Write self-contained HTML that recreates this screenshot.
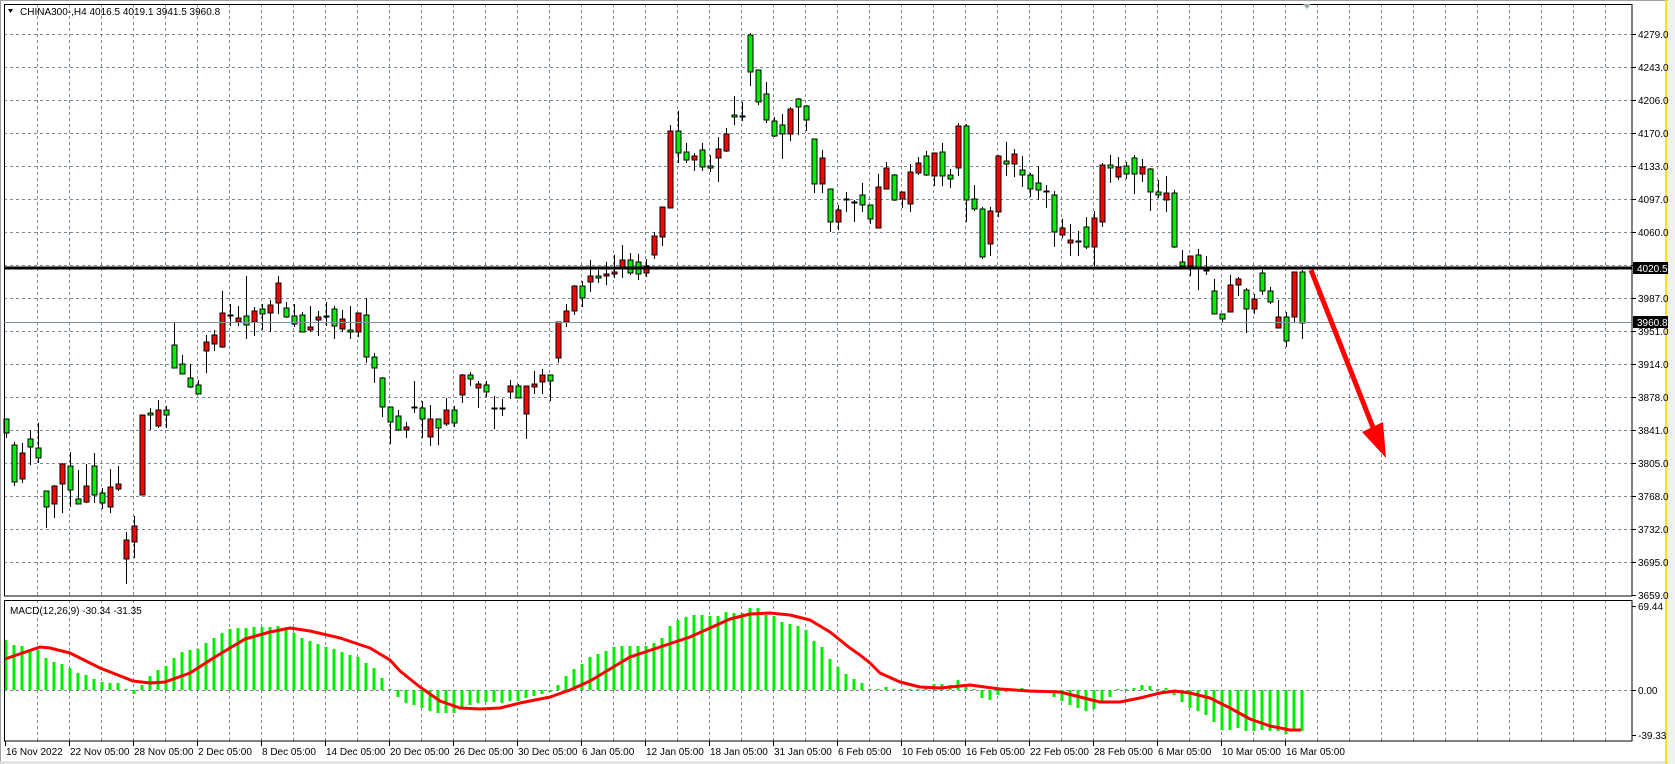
<!DOCTYPE html>
<html><head><meta charset="utf-8">
<style>
html,body{margin:0;padding:0;background:#fff;}
svg{display:block;}
text{font-family:"Liberation Sans",sans-serif;font-size:10px;fill:#000;}
</style></head>
<body>
<svg id="s" width="1675" height="764" xmlns="http://www.w3.org/2000/svg">
<rect x="0" y="0" width="1675" height="764" fill="#fff"/>
<line x1="0" y1="0.5" x2="1675" y2="0.5" stroke="#a0a0a0"/>
<line x1="0.5" y1="0" x2="0.5" y2="764" stroke="#a0a0a0"/>
<line x1="0" y1="762.5" x2="1675" y2="762.5" stroke="#d8d8d8" stroke-width="2"/>
<rect x="1665" y="0" width="2.5" height="764" fill="#f5e030"/>
<rect x="1668" y="0" width="7" height="764" fill="#f0f0f0"/>
<g id="grid"></g>
<g id="macd"></g>
<g id="candles"></g>
<g id="fg"></g>
<text x="20" y="15">CHINA300-,H4  4016.5 4019.1 3941.5 3960.8</text>
<polygon points="8,9 13,9 10.5,13" fill="#000"/>
<polygon points="1303,4 1311,4 1307,9" fill="#9aa"/>
<text x="10" y="614">MACD(12,26,9) -30.34 -31.35</text>
</svg>
<script>
const NS="http://www.w3.org/2000/svg";
function el(p,t,a,txt){const e=document.createElementNS(NS,t);for(const k in a)e.setAttribute(k,a[k]);if(txt!==undefined)e.textContent=txt;document.getElementById(p).appendChild(e);return e;}
const GC="#7a8896";
for(let k=0;k<=16;k++){const y=34+33*k+0.5;el('grid','line',{x1:4,y1:y,x2:1632,y2:y,stroke:GC,'stroke-dasharray':'3,3'});}
for(let x=37;x<1632;x+=32){el('grid','line',{x1:x+0.5,y1:4,x2:x+0.5,y2:596,stroke:GC,'stroke-dasharray':'3,3'});
 el('grid','line',{x1:x+0.5,y1:600,x2:x+0.5,y2:741,stroke:GC,'stroke-dasharray':'3,3'});}
el('grid','line',{x1:4,y1:690.5,x2:1632,y2:690.5,stroke:GC,'stroke-dasharray':'3,3'});
el('fg','rect',{x:4.5,y:4.5,width:1627.5,height:591.5,fill:'none',stroke:'#000'});
el('fg','rect',{x:4.5,y:600.5,width:1627.5,height:140.5,fill:'none',stroke:'#000'});
const pl=["4279.0","4243.0","4206.0","4170.0","4133.0","4097.0","4060.0","4024.0","3987.0","3951.0","3914.0","3878.0","3841.0","3805.0","3768.0","3732.0","3695.0","3659.0"];
pl.forEach((t,k)=>{const y=34+33*k;el('fg','line',{x1:1632,y1:y+0.5,x2:1636,y2:y+0.5,stroke:'#000'});el('fg','text',{x:1638,y:y+4},t);});
[[606,"69.44"],[690,"0.00"],[735,"-39.33"]].forEach(([y,t])=>{el('fg','line',{x1:1632,y1:y+0.5,x2:1636,y2:y+0.5,stroke:'#000'});el('fg','text',{x:1638,y:y+4},t);});
const dl=["16 Nov 2022","22 Nov 05:00","28 Nov 05:00","2 Dec 05:00","8 Dec 05:00","14 Dec 05:00","20 Dec 05:00","26 Dec 05:00","30 Dec 05:00","6 Jan 05:00","12 Jan 05:00","18 Jan 05:00","31 Jan 05:00","6 Feb 05:00","10 Feb 05:00","16 Feb 05:00","22 Feb 05:00","28 Feb 05:00","6 Mar 05:00","10 Mar 05:00","16 Mar 05:00"];
dl.forEach((t,i)=>{const x=5+64*i;el('fg','line',{x1:x+0.5,y1:741,x2:x+0.5,y2:746,stroke:'#000'});el('fg','text',{x:x+1,y:755},t);});
const C=`419,433,419,438,g
445,482,442,486,g
453,479,443,483,r
439,447,430,465,g
448,458,423,463,g
491,507,491,528,g
486,504,485,518,r
464,484,463,513,r
466,490,452,507,g
499,504,470,504,g
486,502,464,503,r
466,495,453,503,g
493,503,488,509,g
487,507,469,513,r
484,489,466,491,r
540,559,532,584,r
526,542,516,558,r
415,495,415,495,r
413,415,408,430,g
410,426,400,428,r
410,415,406,428,g
345,368,323,368,g
364,374,355,374,g
378,387,364,388,g
385,394,380,394,g
342,351,335,373,r
335,344,330,351,r
313,347,291,348,r
315,315,304,326,d
318,322,306,326,r
316,325,276,339,g
311,322,307,336,r
309,314,304,330,g
305,313,300,332,r
283,303,276,314,r
308,317,302,318,g
316,324,304,327,g
315,332,312,332,g
327,330,306,332,r
317,320,311,336,r
316,316,302,326,d
309,326,306,339,g
319,329,310,332,r
330,332,306,339,g
313,332,313,337,r
315,357,298,363,g
357,368,353,383,g
378,407,377,417,g
407,422,407,444,g
416,430,410,431,g
427,430,422,438,r
407,407,381,413,d
408,419,401,438,g
419,437,405,446,r
419,428,419,445,g
410,424,398,426,r
410,423,406,427,g
375,395,374,403,r
375,379,372,386,g
384,388,381,408,r
385,392,381,397,g
408,408,396,429,d
408,408,399,416,d
386,392,380,399,r
386,398,384,398,g
386,414,386,439,r
384,387,371,394,r
375,382,369,394,r
375,381,375,401,g
322,358,322,363,r
311,322,304,327,r
286,311,285,315,r
286,298,281,307,g
276,282,260,292,r
276,278,270,283,g
274,276,262,285,r
272,274,255,278,r
260,268,245,278,r
260,273,253,275,g
262,274,254,280,g
266,273,259,277,r
236,255,232,259,r
207,237,207,246,r
131,208,125,208,r
131,153,111,163,g
152,160,143,163,g
156,160,153,171,r
150,167,143,171,g
166,168,155,172,g
149,158,137,182,r
134,151,128,152,r
115,117,96,125,g
116,116,102,121,d
35,72,33,86,g
70,102,70,105,g
94,120,82,123,g
121,136,117,137,g
125,134,114,159,g
109,134,107,141,r
99,107,98,135,g
106,120,105,131,g
139,184,139,193,g
158,184,150,193,r
189,222,189,232,g
210,222,205,230,r
199,199,192,212,d
202,202,200,222,d
195,205,183,212,g
205,219,205,224,g
187,228,174,228,r
168,189,162,189,r
175,200,174,201,g
192,199,192,208,r
172,204,164,212,r
163,173,157,175,r
156,175,151,176,g
153,176,153,186,r
152,176,143,186,g
175,179,169,188,g
126,168,123,176,r
126,200,124,222,g
199,209,185,211,g
209,257,207,259,g
211,244,207,256,r
156,212,155,217,r
161,164,142,176,g
154,164,149,177,r
170,175,156,187,g
175,189,173,197,g
183,190,166,200,g
191,191,185,208,d
195,232,191,247,g
228,235,219,238,r
240,243,224,256,r
241,241,231,256,d
227,247,217,249,g
218,247,211,266,r
165,222,163,227,r
165,168,155,183,g
167,177,157,180,r
166,174,162,179,g
158,174,155,194,g
167,174,159,182,r
169,192,168,211,g
192,195,180,198,g
193,200,176,212,r
193,247,190,248,g
262,266,250,266,g
256,266,256,276,r
255,267,249,290,g
270,270,256,275,d
291,314,279,314,g
314,319,314,323,g
285,312,275,312,r
279,285,277,296,r
290,309,288,333,g
299,309,294,314,r
273,291,270,295,g
291,302,287,304,g
317,328,300,328,r
317,341,312,347,g
272,317,272,323,r
272,323,270,339,g`.split("\n").map(l=>l.split(","));
const H=[50,45,44,40,40,32,28,26,22,17,15,11,8,7,7,0,-4,5,14,20,24,32,38,40,41,47,52,57,61,62,62,63,63,63,64,62,57,52,49,46,43,41,38,35,33,27,22,12,1,-7,
-13,-15,-18,-21,-23,-23,-23,-18,-15,-13,-12,-12,-13,-11,-11,-8,-6,-4,-2,5,14,21,26,33,36,39,43,44,44,44,44,47,52,64,70,73,75,75,74,74,78,77,77,82,82,75,74,68,66,64,60,49,43,31,23,16,11,
7,1,1,3,0,0,1,1,4,6,6,5,10,3,0,-8,-10,-5,-2,0,2,-2,-2,-2,-7,-11,-15,-18,-21,-19,-12,-7,1,0,2,5,4,1,2,-5,-12,-18,-21,-25,-32,-40,-40,-38,-41,-41,-40,-41,-41,-44,-41,-41];
H.forEach((h,i)=>{const x=6+8*i;if(h==0)h=1;const y=h>0?690-h:690;el('macd','rect',{x:x-1.5,y:y,width:3,height:Math.abs(h),fill:'#00ee00'});});
const S=[[5,659],[40,647],[50,648],[70,653],[100,668],[133,681],[150,683],[165,682],[190,673],[215,657],[245,639],[270,632],[290,628],[310,631],[340,638],[370,648],[390,660],[400,671],[420,687],[440,701],[460,708],[480,709],[500,708],[520,703],[550,697],[570,690],[590,681],[610,669],[630,657],[660,647],[690,637],[710,628],[730,619],[750,614],[770,613],[790,615],[810,620],[830,632],[850,648],[860,655],[870,663],[880,673],[900,682],[920,687],[940,688],[960,686],[970,685],[985,687],[1000,689],[1030,691],[1060,692],[1080,697],[1100,702],[1120,702],[1140,698],[1160,693],[1175,691],[1190,693],[1210,698],[1230,708],[1250,719],[1270,726],[1290,730],[1301,730]];
el('macd','polyline',{points:S.map(p=>p.join(',')).join(' '),fill:'none',stroke:'#ff0000','stroke-width':3,'stroke-linejoin':'round'});
C.forEach((c,i)=>{const x=6+8*i+0.5;const bt=+c[0],bb=+c[1],wt=+c[2],wb=+c[3],t=c[4];
 el('candles','line',{x1:x,y1:wt,x2:x,y2:wb,stroke:'#000'});
 if(t=='d'){el('candles','line',{x1:x-3,y1:bt+0.5,x2:x+3,y2:bt+0.5,stroke:'#000','stroke-width':2});}
 else{el('candles','rect',{x:x-2.5,y:bt,width:5,height:Math.max(bb-bt,2),fill:t=='g'?'#00ee00':'#ff0000',stroke:'#000'});}
});
el('fg','line',{x1:4,y1:322.5,x2:1632,y2:322.5,stroke:'#8090a0'});
el('fg','rect',{x:4,y:266.5,width:1628,height:3,fill:'#000'});
el('fg','rect',{x:1633,y:262,width:35,height:12,fill:'#000'});
el('fg','text',{x:1637,y:272,style:'fill:#fff'},"4020.5");
el('fg','rect',{x:1633,y:316,width:35,height:12,fill:'#000'});
el('fg','text',{x:1637,y:326,style:'fill:#fff'},"3960.8");
el('fg','line',{x1:1311,y1:270,x2:1374,y2:430,stroke:'#ff0000','stroke-width':5});
el('fg','polygon',{points:'1362,432 1383,422 1386,458',fill:'#ff0000'});
</script>
</body></html>
